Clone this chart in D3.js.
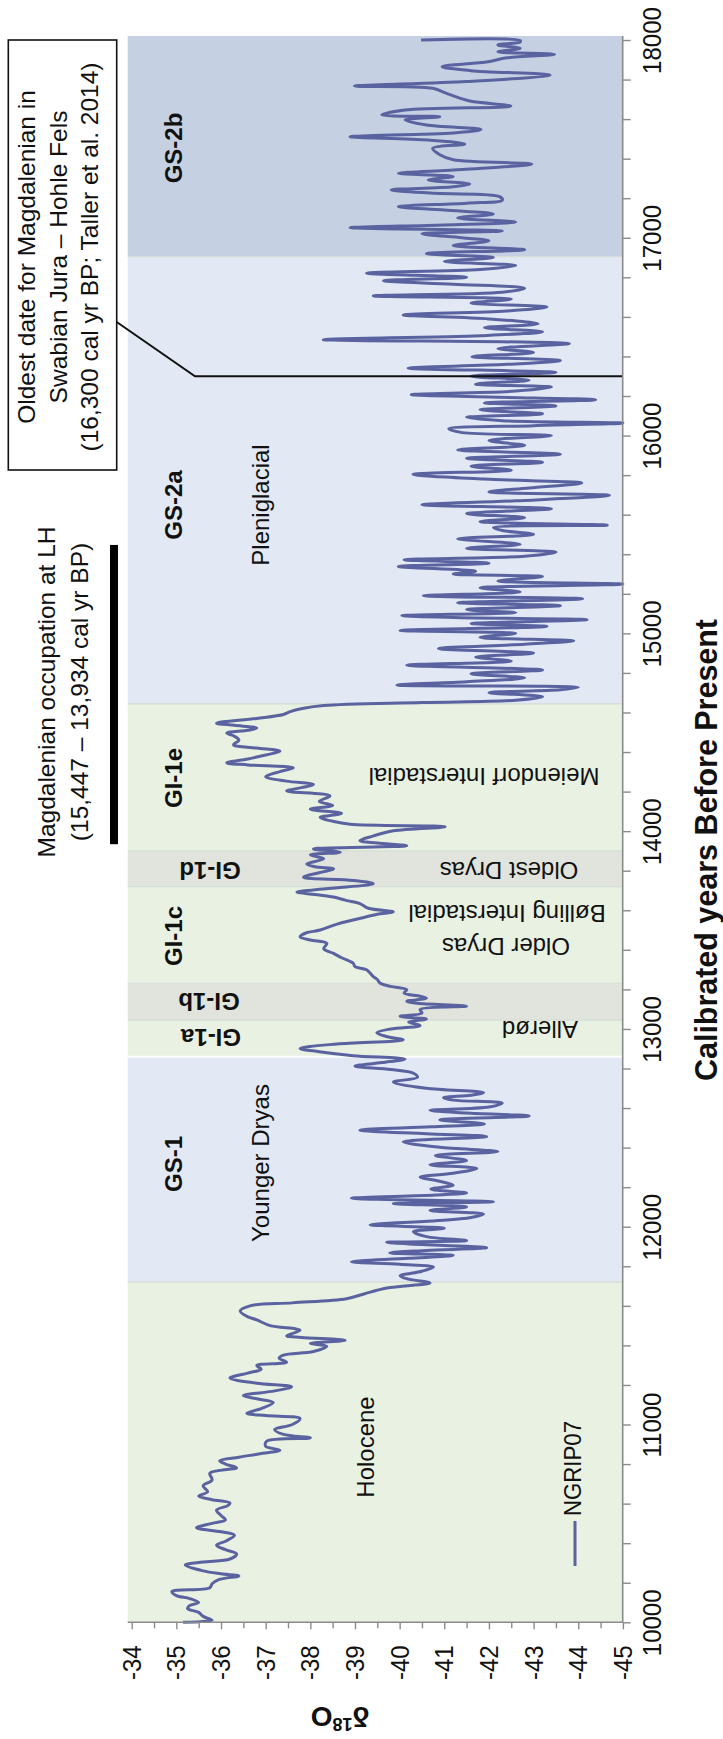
<!DOCTYPE html>
<html><head><meta charset="utf-8">
<script src="https://cdn.jsdelivr.net/npm/d3@7"></script>
<style>
body{margin:0;background:#fff}
svg{display:block}
text{font-family:"Liberation Sans",Arial,sans-serif;fill:#111}
</style>
</head><body>
<svg id="chart" width="723" height="1739"></svg>
<script>
// ---------- DATA ----------
const years = [
10000,10010,10030,10050,10070,10085,10100,10120,10135,10155,
10175,10195,10216,10234,10245,10260,10290,10305,10320,10345,
10367,10390,10410,10440,10458,10478,10500,10518,10540,10567,
10590,10603,10620,10638,10660,10690,10720,10754,10781,10800,
10817,10835,10852,10870,10890,10915,10932,10950,10975,11000,
11030,11045,11057,11080,11111,11130,11146,11170,11191,11209,
11235,11260,11280,11298,11315,11335,11351,11369,11396,11410,
11426,11440,11449,11476,11500,11529,11547,11574,11600,11615,
11636,11660,11690,11716,
11735,11752,11775,11796,11810,11823,11840,11855,11868,11880,
11894,11910,11921,11930,11950,11975,11992,12010,12030,12047,
12064,12082,12100,12117,12126,12144,12160,12171,12190,12210,
12230,12251,12270,12295,12313,12335,12360,12380,12402,12429,
12456,12470,12488,12505,12520,12540,12560,12575,12589,12605,
12625,12640,12652,12665,12678,12700,12732,12755,12776,12795,
12812,12830,12848,
12865,12885,12901,12924,12945,12962,12981,13000,13017,13035,
13050,13064,13080,13098,13115,13130,13140,13155,13165,13182,
13198,13215,13232,
13250,13265,13299,13315,13332,13360,13382,13405,13433,13450,
13466,13485,13500,13530,13567,13580,13592,13610,13634,13650,
13667,13680,13692,13710,
13734,13751,13767,13790,13809,13820,13834,13860,13880,13893,
13910,13926,13940,13952,13975,14002,14022,14035,14050,14069,
14090,14111,14130,14150,14178,14203,14220,14236,14253,14275,
14300,14320,14335,14345,14365,14385,14404,14420,14437,14460,
14480,14496,14510,14521,14535,14546,14570,14590,14604,14621,
14635,
14650,14662,14680,14700,14715,14727,14738,14755,14775,14795,
14815,14839,14860,14880,14900,14923,14945,14962,14980,15000,
15015,15035,15050,15069,15080,15090,15105,15120,15140,15155,
15175,15190,15210,15230,15249,15265,15287,15300,15314,15338,
15355,15372,15390,15410,15430,15450,15478,15500,15520,15535,
15547,15565,15585,15605,15630,15650,15670,15698,15715,15735,
15760,15780,15804,15825,15845,15865,15885,15905,15928,15950,
15975,16000,16015,16034,16050,16063,16075,16092,16110,16130,
16150,16165,16181,16195,16207,16225,16245,16260,16280,16300,
16320,16341,16360,16380,16399,16420,16440,16465,16485,16505,
16525,16545,16565,16590,16610,16630,16650,16670,16690,16706,
16725,16745,16765,16783,16800,16821,16840,16860,16880,16900,
16920,16940,16960,16985,17000,17020,17035,17051,17065,17080,
17100,17120,17140,17157,17175,17190,17208,17225,17242,17258,
17272,17292,17310,17326,17345,17373,17395,17420,17452,17474,
17494,17511,17530,17548,17570,17596,17612,17621,17646,17666,
17690,17705,17730,17756,17767,17790,17823,17845,17865,17890,
17910,17928,17940,17958,17975,17990,17997,18000
];
const d18O = [
-35.15,-35.8,-35.6,-35.5,-35.25,-35.3,-35.5,-35.3,-35.0,-34.9,
-35.75,-35.8,-35.95,-36.4,-36.0,-35.6,-35.2,-35.6,-36.2,-36.35,
-36.1,-35.9,-36.1,-36.3,-36.0,-35.45,-35.8,-36.1,-36.0,-35.9,
-36.15,-36.2,-35.8,-35.5,-35.7,-35.6,-35.8,-35.75,-36.35,-36.1,
-35.97,-36.4,-36.87,-37.32,-37.0,-37.02,-38.0,-37.4,-37.2,-37.6,
-37.77,-37.0,-36.58,-36.9,-37.17,-36.8,-36.5,-37.2,-37.58,-36.8,
-36.2,-36.6,-36.9,-36.8,-37.47,-37.3,-37.4,-38.07,-38.37,-38.0,
-38.78,-37.8,-37.47,-37.77,-37.1,-36.8,-36.58,-36.43,-36.65,-37.6,
-38.81,-39.2,-39.71,-40.68,
-40.2,-40.01,-40.5,-40.76,-40.0,-38.92,-40.2,-41.2,-39.78,-40.6,
-41.95,-40.5,-39.71,-41.5,-40.6,-40.31,-41.0,-39.34,-40.8,-41.6,
-41.88,-40.68,-41.5,-39.86,-42.1,-38.92,-40.8,-41.5,-40.7,-41.2,
-40.9,-40.46,-41.2,-41.73,-40.68,-41.5,-40.8,-42.2,-40.9,-40.08,
-41.95,-40.6,-39.11,-40.7,-41.9,-40.9,-42.9,-41.5,-40.68,-42.0,
-42.3,-41.2,-40.98,-41.6,-41.88,-40.6,-39.86,-40.4,-40.31,-39.8,
-39.0,-39.6,-40.12,
-38.96,-38.2,-37.77,-38.6,-40.08,-39.7,-39.49,-39.8,-40.46,-40.2,
-40.6,-40.01,-40.5,-40.46,-41.5,-40.4,-40.16,-40.6,-40.46,-40.1,
-40.16,-39.8,-39.56,
-39.5,-39.41,-39.26,-39.0,-38.96,-38.7,-38.52,-38.3,-38.37,-38.0,
-37.77,-37.9,-38.22,-38.6,-39.26,-39.5,-39.86,-39.3,-39.11,-38.8,
-38.52,-38.1,-37.7,-38.4,
-39.41,-38.96,-37.85,-38.2,-38.52,-38.1,-37.92,-38.3,-38.0,-38.67,
-38.07,-40.16,-39.5,-39.11,-39.4,-39.86,-41.02,-38.89,-38.5,-38.22,
-38.7,-38.0,-38.5,-38.2,-38.44,-37.47,-37.8,-38.07,-37.47,-37.0,
-37.3,-37.62,-36.6,-36.13,-36.6,-37.0,-37.32,-36.8,-36.28,-36.4,
-36.3,-36.13,-36.6,-36.8,-36.3,-35.9,-36.8,-37.4,-37.55,-37.85,
-38.3,
-40.5,-42.6,-43.2,-42.0,-43.6,-44.0,-39.94,-41.5,-42.8,-41.6,
-43.2,-40.16,-42.5,-41.7,-43.0,-40.87,-42.8,-43.9,-41.8,-42.6,
-40.01,-43.3,-41.6,-44.2,-41.2,-40.05,-42.6,-41.5,-43.6,-41.3,
-44.1,-40.53,-42.7,-41.8,-45.0,-42.2,-43.2,-41.2,-41.7,-39.97,
-42.0,-40.1,-42.8,-43.5,-41.5,-42.7,-41.3,-43.0,-42.3,-42.1,
-44.65,-41.8,-42.8,-41.5,-43.4,-40.5,-42.6,-44.7,-42.0,-42.9,
-44.08,-41.9,-40.3,-42.5,-41.6,-43.2,-41.5,-43.6,-41.3,-42.8,
-42.0,-43.4,-41.4,-41.1,-43.0,-45.0,-42.3,-41.5,-43.2,-41.8,
-43.5,-41.9,-44.39,-42.0,-40.26,-42.6,-43.4,-41.7,-42.9,-41.6,
-43.5,-40.19,-42.4,-43.6,-41.62,-43.0,-42.2,-43.8,-38.29,-41.8,
-43.2,-41.9,-43.1,-42.0,-40.08,-42.4,-43.3,-41.6,-42.5,-39.41,
-42.3,-42.8,-41.2,-39.64,-41.5,-39.26,-41.8,-42.6,-41.0,-42.1,
-40.6,-42.8,-41.2,-42.0,-41.4,-40.5,-42.3,-38.89,-41.0,-42.6,
-41.3,-42.1,-41.0,-39.97,-41.5,-42.3,-42.24,-40.8,-39.81,-41.2,
-41.57,-40.64,-41.2,-39.97,-41.4,-42.96,-41.2,-40.9,-40.74,-41.46,
-40.64,-38.89,-41.2,-41.82,-40.6,-40.12,-40.9,-39.6,-40.12,-42.49,
-41.6,-41.36,-41.05,-40.74,-38.99,-41.5,-43.37,-41.6,-40.95,-41.98,
-42.4,-43.47,-42.2,-42.7,-42.2,-42.7,-42.7,-40.48
];
const bandNames  = ["Holocene","GS-1","GI-1a","GI-1b","GI-1c","GI-1d","GI-1e","GS-2a","GS-2b"];
const bandStart  = [10000,11720,12860,13045,13231,13720,13900,14643,16905];
const bandEnd    = [11720,12860,13045,13231,13720,13900,14643,16905,18020];
const bandKind   = ["warm","cold","warm","cool","warm","cool","warm","cold","colder"];
const deltaTicks = [-34,-35,-36,-37,-38,-39,-40,-41,-42,-43,-44,-45];
const yearTicks  = [10000,11000,12000,13000,14000,15000,16000,17000,18000];
const occupation = [15447,13934];
const oldestDate = 16300;
const seriesName = "NGRIP07";

// ---------- SCALES ----------
const svg = d3.select("#chart");
const x = d3.scaleLinear().domain([-34,-45]).range([131.7,622.9]);
const y = d3.scaleLinear().domain([10000,18000]).range([1622.3,40]);
const PL=127.7, PR=622.7, PT=36, PB=1622.3;
const bandColor = {warm:"#e9f1e3", cold:"#e2e8f4", cool:"#e1e4dd", colder:"#c6d0e3"};
const lineColor = "#5a63a0";

// bands
const bands = bandNames.map((n,i)=>({n, s:bandStart[i], e:bandEnd[i], k:bandKind[i]}));
svg.append("g").selectAll("rect").data(bands).join("rect")
  .attr("x",PL).attr("width",PR-PL)
  .attr("y",d=>Math.max(PT,y(d.e))).attr("height",d=>y(d.s)-Math.max(PT,y(d.e)))
  .attr("fill",d=>bandColor[d.k]);
svg.append("g").selectAll("line").data(bands.slice(1)).join("line")
  .attr("x1",PL).attr("x2",PR).attr("y1",d=>y(d.s)).attr("y2",d=>y(d.s))
  .attr("stroke",d=>d.n==="GI-1a"?"#ffffff":"#d6dcd6").attr("stroke-width",1.2);
svg.append("line").attr("x1",PL).attr("x2",PR).attr("y1",y(12860)).attr("y2",y(12860))
  .attr("stroke","#fff").attr("stroke-width",1.6);

// curve
const pts = years.map((yr,i)=>({yr, v:d18O[i]}));
const line = d3.line().x(d=>x(d.v)).y(d=>y(d.yr)).curve(d3.curveCatmullRom.alpha(0.5));
svg.append("path").datum(pts).attr("d",line).attr("fill","none")
  .attr("stroke",lineColor).attr("stroke-width",3).attr("stroke-linejoin","round");

// ---------- TEXT HELPERS ----------
function vtext(txt, bx, cy, size, weight, anchor){
  return svg.append("text").attr("transform",`translate(${bx},${cy}) rotate(-90)`)
    .attr("text-anchor",anchor||"middle").attr("font-size",size).attr("font-weight",weight||"normal").text(txt);
}
function utext(txt, cx, cy, size, weight){
  return svg.append("text").attr("transform",`translate(${cx},${cy}) rotate(180)`)
    .attr("text-anchor","middle").attr("dy","0.36em").attr("font-size",size).attr("font-weight",weight||"normal").text(txt);
}

vtext("GS-2b",182,148,24,"bold");
vtext("GS-2a",182,505,24,"bold");
vtext("GI-1e",182,778,24,"bold");
vtext("GI-1c",182,936,24,"bold");
vtext("GS-1",182,1164,24,"bold");
utext("GI-1d",210,871,24,"bold");
utext("GI-1b",209,1002,24,"bold");
utext("GI-1a",211,1038,24,"bold");

vtext("Pleniglacial",269,505,24);
vtext("Younger Dryas",269,1163,24);
vtext("Holocene",374,1447,24);
utext("Meiendorf Interstadial",484,777,24);
utext("Oldest Dryas",509,871,24);
utext("Bølling Interstadial",507,914,24);
utext("Older Dryas",506,947,24);
utext("Allerød",540,1030,24);

svg.append("path")
  .attr("d",`M116.7,322 L195,${y(oldestDate)} L${PR},${y(oldestDate)}`)
  .attr("fill","none").attr("stroke","#111").attr("stroke-width",2);

// ---------- AXES ----------
const axisColor="#8a8a8a";
function condense(sel, size){
  sel.attr("font-size",24).each(function(){
    const L=this.getComputedTextLength();
    d3.select(this).attr("font-size",size).attr("textLength",L).attr("lengthAdjust","spacingAndGlyphs");
  });
}
const gB = svg.append("g").attr("transform",`translate(0,${PB})`);
gB.call(d3.axisBottom(x).tickValues(d3.range(-34.5,-45,-1)).tickSize(6).tickFormat(""));
gB.select(".domain").remove();
const gB2 = svg.append("g").attr("transform",`translate(0,${PB})`);
gB2.call(d3.axisBottom(x).tickValues(deltaTicks).tickSize(7).tickFormat(d=>d));
gB2.select(".domain").remove();
gB2.selectAll("text").attr("x",null).attr("y",null).attr("dy","0.32em")
  .attr("transform","translate(0,23) rotate(-90)").attr("text-anchor","end")
  .attr("font-family","Liberation Sans, Arial, sans-serif").attr("fill","#111")
  .call(condense,26.5);
svg.append("line").attr("x1",PL).attr("x2",PR).attr("y1",PB).attr("y2",PB).attr("stroke",axisColor).attr("stroke-width",1.6);

const gR = svg.append("g").attr("transform",`translate(${PR},0)`);
gR.call(d3.axisRight(y).tickValues(d3.range(10200,18000,200).filter(v=>v%1000!==0)).tickSize(8).tickFormat(""));
gR.select(".domain").remove();
const gR2 = svg.append("g").attr("transform",`translate(${PR},0)`);
gR2.call(d3.axisRight(y).tickValues(yearTicks).tickSize(8).tickFormat(d=>d));
gR2.select(".domain").remove();
gR2.selectAll("text").attr("x",null).attr("dy","0.35em")
  .attr("transform","translate(29,0) rotate(-90)").attr("text-anchor","middle")
  .attr("font-family","Liberation Sans, Arial, sans-serif").attr("fill","#111")
  .call(condense,26.5);
svg.selectAll(".tick line").attr("stroke",axisColor).attr("stroke-width",1.4);
svg.append("line").attr("x1",PR).attr("x2",PR).attr("y1",PT).attr("y2",PB).attr("stroke",axisColor).attr("stroke-width",1.6);

vtext("Calibrated years Before Present",717,850,31,"bold").attr("textLength",462).attr("lengthAdjust","spacingAndGlyphs");
const dt = svg.append("text").attr("transform","translate(340,1707) rotate(180)")
  .attr("text-anchor","middle").attr("font-size",28).attr("font-weight","bold");
dt.append("tspan").text("δ");
dt.append("tspan").attr("font-size",18).attr("dy",-11).text("18");
dt.append("tspan").attr("dy",11).text("O");

svg.append("line").attr("x1",575).attr("x2",575).attr("y1",1521).attr("y2",1566)
  .attr("stroke",lineColor).attr("stroke-width",3);
vtext(seriesName,581,1516,24,"normal","start").attr("textLength",95).attr("lengthAdjust","spacingAndGlyphs");

svg.append("rect").attr("x",110).attr("width",8)
  .attr("y",y(occupation[0])).attr("height",y(occupation[1])-y(occupation[0])).attr("fill","#000");
vtext("Magdalenian  occupation at LH",55,692,24.5);
vtext("(15,447 – 13,934 cal yr BP)",88,692,24.5);

svg.append("rect").attr("x",8.3).attr("y",40).attr("width",108.4).attr("height",430)
  .attr("fill","#fff").attr("stroke","#111").attr("stroke-width",1.6);
vtext("Oldest date for Magdalenian in",35,257,24.5);
vtext("Swabian Jura – Hohle Fels",67,257,24.5);
vtext("(16,300 cal yr BP; Taller et al. 2014)",98,257,24.5);

if (years.length!==d18O.length) svg.append("text").attr("x",300).attr("y",20).attr("fill","red").text("LEN "+years.length+" "+d18O.length);
</script>
</body></html>
